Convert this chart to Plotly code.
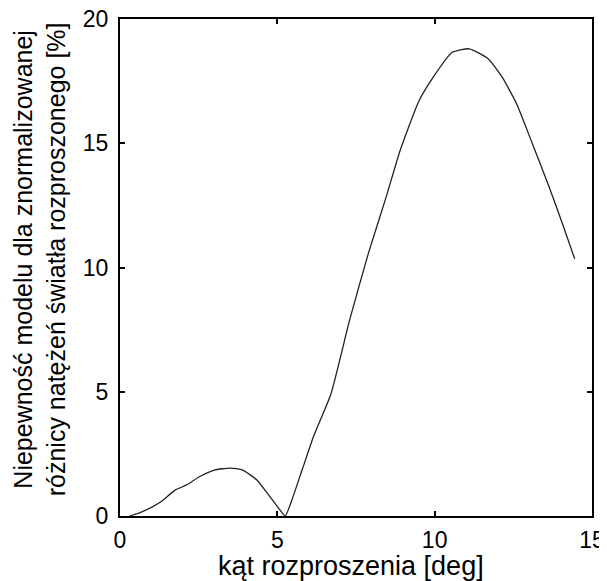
import plotly.graph_objects as go

angle_deg = [0.3, 0.6, 1.0, 1.3, 1.75, 2.1, 2.55, 3.0, 3.5, 3.9, 4.35, 4.75, 5.05, 5.25,
             5.5, 5.8, 6.15, 6.7, 7.3, 7.9, 8.45, 8.9, 9.5, 9.95, 10.55, 11.1, 11.7,
             12.15, 12.6, 13.1, 13.65, 14.05, 14.45]
uncertainty_pct = [0.0, 0.12, 0.35, 0.57, 1.04, 1.24, 1.6, 1.85, 1.93, 1.85, 1.45, 0.8, 0.3, 0.0,
                   0.78, 1.9, 3.2, 4.9, 7.9, 10.6, 12.8, 14.7, 16.7, 17.65, 18.65, 18.8, 18.4,
                   17.65, 16.6, 15.0, 13.2, 11.8, 10.35]
x_ticks = [0, 5, 10, 15]
y_ticks = [0, 5, 10, 15, 20]
x_title = "kąt rozproszenia [deg]"
y_title = "Niepewność modelu dla znormalizowanej<br>różnicy natężeń światła rozproszonego [%]"

FONT = "Liberation Sans"

fig = go.Figure()
fig.add_trace(go.Scatter(x=angle_deg, y=uncertainty_pct, mode="lines",
                         line=dict(color="#222222", width=1.3, shape="spline", smoothing=0.5),
                         showlegend=False))

axis_common = dict(showgrid=False, zeroline=False, showline=True, linecolor="black",
                   linewidth=2, mirror="ticks", ticks="inside", ticklen=5, tickwidth=1.5,
                   tickcolor="black", automargin=False, ticklabeloverflow="allow",
                   tickfont=dict(family=FONT, size=23, color="black"))

fig.update_xaxes(range=[0, 15], tickvals=x_ticks, ticklabelstandoff=2, **axis_common)
fig.update_yaxes(range=[0, 20], tickvals=y_ticks, ticklabelstandoff=5, **axis_common)

fig.add_annotation(text=x_title, xref="paper", yref="paper", x=0.49, y=-0.1,
                   xanchor="center", yanchor="middle", showarrow=False,
                   font=dict(family=FONT, size=27, color="black"))
fig.add_annotation(text=y_title, xref="paper", yref="paper", x=-0.17, y=0.516,
                   xanchor="center", yanchor="middle", showarrow=False, textangle=-90,
                   font=dict(family=FONT, size=25, color="black"))

# page body has a default margin, so the figure is shifted accordingly
fig.update_layout(width=598, height=574, margin=dict(l=112, r=14, t=11, b=66),
                  paper_bgcolor="white", plot_bgcolor="white")

fig.write_html("out.html")
